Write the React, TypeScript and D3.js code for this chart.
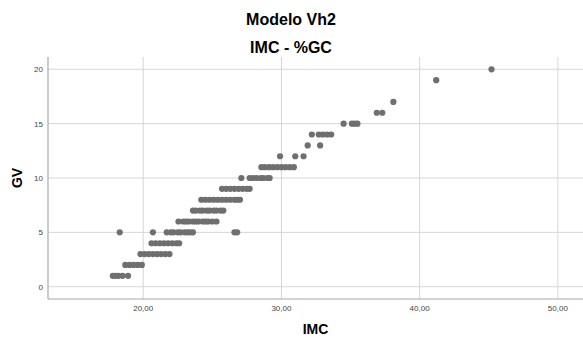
import React from "react";
import * as d3 from "d3";

const titleLines = ["Modelo Vh2", "IMC - %GC"];
const xLabel = "IMC";
const yLabel = "GV";
const xTicks = [20, 30, 40, 50];
const yTicks = [0, 5, 10, 15, 20];

// GV levels and the IMC values observed at each level
const gvLevels = [1, 2, 3, 4, 5, 6, 7, 8, 9, 10, 11, 12, 13, 14, 15, 16, 17, 19, 20];
const imcAtLevel: number[][] = [
  [17.8, 18.0, 18.2, 18.5, 18.9],
  [18.7, 19.0, 19.3, 19.6, 19.9],
  [19.8, 20.1, 20.4, 20.7, 21.0, 21.3, 21.6, 21.9],
  [20.6, 20.9, 21.2, 21.5, 21.8, 22.1, 22.4, 22.6],
  [18.3, 20.7, 21.7, 22.0, 22.2, 22.5, 22.7, 23.0, 23.2, 23.4, 23.6, 26.6, 26.8],
  [22.55, 22.9, 23.1, 23.3, 23.6, 23.8, 24.0, 24.3, 24.5, 24.7, 25.0, 25.3],
  [23.6, 23.8, 24.1, 24.3, 24.6, 24.8, 25.1, 25.3, 25.6, 25.8],
  [24.2, 24.5, 24.8, 25.1, 25.4, 25.7, 26.0, 26.3, 26.6, 26.8, 27.0],
  [25.7, 26.0, 26.3, 26.6, 26.9, 27.2, 27.5, 27.7],
  [27.1, 27.7, 27.95, 28.2, 28.5, 28.7, 29.0, 29.15],
  [28.55, 28.8, 29.1, 29.4, 29.7, 30.0, 30.3, 30.6, 30.9],
  [29.9, 31.0, 31.6],
  [31.9, 32.8],
  [32.2, 32.7, 33.0, 33.3, 33.6],
  [34.5, 35.1, 35.3, 35.5],
  [36.9, 37.3],
  [38.1],
  [41.2],
  [45.2],
];

const W = 583;
const H = 345;
const plot = { left: 48, right: 583, top: 57, bottom: 299 };

export default function App() {
  const x = d3.scaleLinear().domain([13.11, 51.82]).range([plot.left, plot.right]);
  const y = d3.scaleLinear().domain([-1.13, 21.13]).range([plot.bottom, plot.top]);
  const fmt = (v: number) => d3.format(".2f")(v).replace(".", ",");
  const points = gvLevels.flatMap((g, i) => imcAtLevel[i].map((v) => ({ g, v })));
  const font = "'Liberation Sans', Arial, sans-serif";
  const cx = (plot.left + plot.right) / 2;
  const cy = (plot.top + plot.bottom) / 2;

  return (
    <div style={{ position: "absolute", left: 0, top: 0 }}>
      <svg width={W} height={H} style={{ display: "block", background: "#fff" }} fontFamily={font}>
        <text x={291} y={25} textAnchor="middle" fontSize={16} fontWeight="bold" fill="#000">
          {titleLines[0]}
        </text>
        <text x={291} y={53} textAnchor="middle" fontSize={16} fontWeight="bold" fill="#000">
          {titleLines[1]}
        </text>
        {/* gridlines */}
        {xTicks.map((t) => (
          <line key={"gx" + t} x1={x(t)} x2={x(t)} y1={plot.top} y2={plot.bottom} stroke="#d6d6d6" strokeWidth={1} />
        ))}
        {yTicks.map((t) => (
          <line key={"gy" + t} x1={plot.left} x2={plot.right} y1={y(t)} y2={y(t)} stroke="#d6d6d6" strokeWidth={1} />
        ))}
        {/* axes */}
        <line x1={plot.left} x2={plot.left} y1={plot.top} y2={plot.bottom} stroke="#a8a8a8" strokeWidth={1.2} />
        <line x1={plot.left} x2={plot.right} y1={plot.bottom} y2={plot.bottom} stroke="#a8a8a8" strokeWidth={1.2} />
        {/* tick labels */}
        {xTicks.map((t) => (
          <text key={"tx" + t} x={x(t)} y={311} textAnchor="middle" fontSize={8} fill="#444">
            {fmt(t)}
          </text>
        ))}
        {yTicks.map((t) => (
          <text key={"ty" + t} x={43} y={y(t) + 3} textAnchor="end" fontSize={8} fill="#444">
            {t}
          </text>
        ))}
        {/* axis titles */}
        <text x={cx} y={334} textAnchor="middle" fontSize={14} fontWeight="bold" fill="#000">
          {xLabel}
        </text>
        <text transform={`translate(22,${cy}) rotate(-90)`} textAnchor="middle" fontSize={14} fontWeight="bold" fill="#000">
          {yLabel}
        </text>
        {/* points */}
        {points.map((p, i) => (
          <circle key={i} cx={x(p.v)} cy={y(p.g)} r={3.1} fill="#6f6f6f" />
        ))}
      </svg>
    </div>
  );
}
